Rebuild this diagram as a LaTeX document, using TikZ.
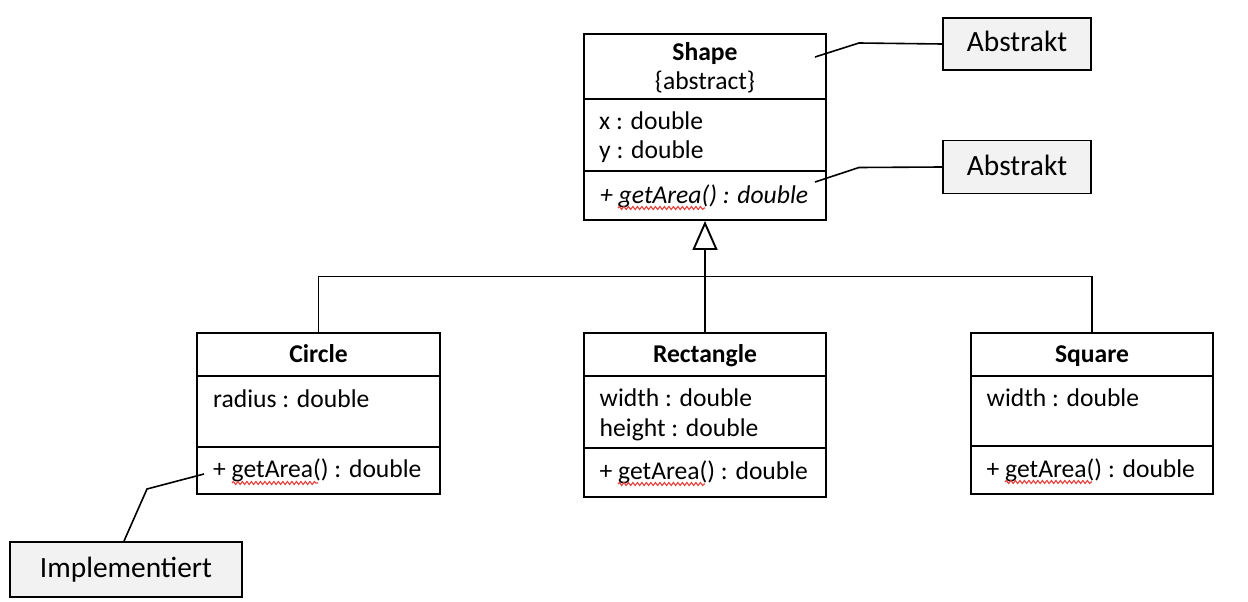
\documentclass[tikz,border=0pt]{standalone}
\usepackage{fontspec}
\setmainfont{Carlito}
\usetikzlibrary{arrows.meta,decorations.pathmorphing}
\definecolor{notefill}{HTML}{F2F2F2}
\definecolor{squig}{HTML}{E8403A}
\tikzset{
 classbox/.style={draw, line width=1.9pt, inner sep=0pt},
 ctext/.style={anchor=base west, inner sep=0pt, font=\fontsize{25.6}{30}\selectfont},
 ctitle/.style={anchor=base, inner sep=0pt, font=\fontsize{25.6}{30}\selectfont\bfseries},
 csub/.style={anchor=base, inner sep=0pt, font=\fontsize{25.6}{30}\selectfont},
 note/.style={draw, line width=1.9pt, fill=notefill, inner sep=0pt, font=\fontsize{29.4}{34}\selectfont, text height=20pt, text depth=4pt},
 noteline/.style={line width=1.6pt},
 gen/.style={line width=1.9pt},
 divider/.style={line width=1.9pt},
 squiggle/.style={draw=squig, line width=1.1pt, decorate, decoration={snake, amplitude=1.5pt, segment length=4.5pt}}
}
\begin{document}
\begin{tikzpicture}[x=1pt,y=-1pt]
\fill[white] (0,0) rectangle (1248,602);
\useasboundingbox (0,0) rectangle (1248,602);

% Class boxes
\node[classbox, minimum width=242pt, minimum height=186pt] (shape) at (705,127) {};
\node[classbox, minimum width=243pt, minimum height=161pt] (circle) at (318.5,413.5) {};
\node[classbox, minimum width=242pt, minimum height=164pt] (rect) at (705,415) {};
\node[classbox, minimum width=242pt, minimum height=161pt] (square) at (1092,413.5) {};

% Dividers
\draw[divider] (shape.west |- 0,99) -- (shape.east |- 0,99);
\draw[divider] (shape.west |- 0,171) -- (shape.east |- 0,171);
\draw[divider] (circle.west |- 0,376) -- (circle.east |- 0,376);
\draw[divider] (circle.west |- 0,447) -- (circle.east |- 0,447);
\draw[divider] (rect.west |- 0,376) -- (rect.east |- 0,376);
\draw[divider] (rect.west |- 0,448) -- (rect.east |- 0,448);
\draw[divider] (square.west |- 0,376) -- (square.east |- 0,376);
\draw[divider] (square.west |- 0,446) -- (square.east |- 0,446);

% Shape texts
\node[ctitle] (shapeT) at (705,60) {Shape};
\node[csub] (shapeS) at (705,89) {\{abstract\}};
\node[ctext] (shapeA1) at (599,129) {x : double};
\node[ctext] (shapeA2) at (599,158) {y : double};
\node[ctext] (shapeM) at (600,203) {\itshape + getArea() : double};

% Circle texts
\node[ctitle] (circT) at (318.5,362) {Circle};
\node[ctext] (circA) at (213,407) {radius : double};
\node[ctext] (circM) at (213,477) {+ getArea() : double};

% Rectangle texts
\node[ctitle] (rectT) at (705,362.5) {Rectangle};
\node[ctext] (rectA1) at (599.5,406.5) {width : double};
\node[ctext] (rectA2) at (599.5,436) {height : double};
\node[ctext] (rectM) at (599.5,479) {+ getArea() : double};

% Square texts
\node[ctitle] (sqT) at (1092,362) {Square};
\node[ctext] (sqA) at (986.5,406.5) {width : double};
\node[ctext] (sqM) at (986.5,477) {+ getArea() : double};

% Spell-check squiggles
\draw[squiggle] (618,208) -- (705,208);
\draw[squiggle] (232,483) -- (318,483);
\draw[squiggle] (618,484) -- (705,484);
\draw[squiggle] (1005,482) -- (1092,482);

% Generalization
\coordinate (junc) at (705,276.5);
\draw[gen] (circle.north) |- (junc) -| (square.north);
\draw[gen, -{Triangle[open, length=29pt, width=25pt, line width=1.9pt]}] (rect.north) -- (shape.south);

% Notes
\node[note, minimum width=148pt, minimum height=52pt] (n1) at (1017,44) {Abstrakt};
\node[note, minimum width=148pt, minimum height=53pt] (n2) at (1017,167) {Abstrakt};
\node[note, minimum width=232pt, minimum height=55pt] (n3) at (126,569.5) {Implementiert};

\coordinate (k1) at (859,43);
\coordinate (e1) at (815,57);
\coordinate (k2) at (859,167.5);
\coordinate (e2) at (815,182);
\coordinate (k3) at (147,489);
\coordinate (e3) at (204,474);
\draw[noteline] (n1.west) -- (k1) -- (e1);
\draw[noteline] (n2.west) -- (k2) -- (e2);
\draw[noteline] (n3.north) ++(-2,0) -- (k3) -- (e3);
\end{tikzpicture}
\end{document}
